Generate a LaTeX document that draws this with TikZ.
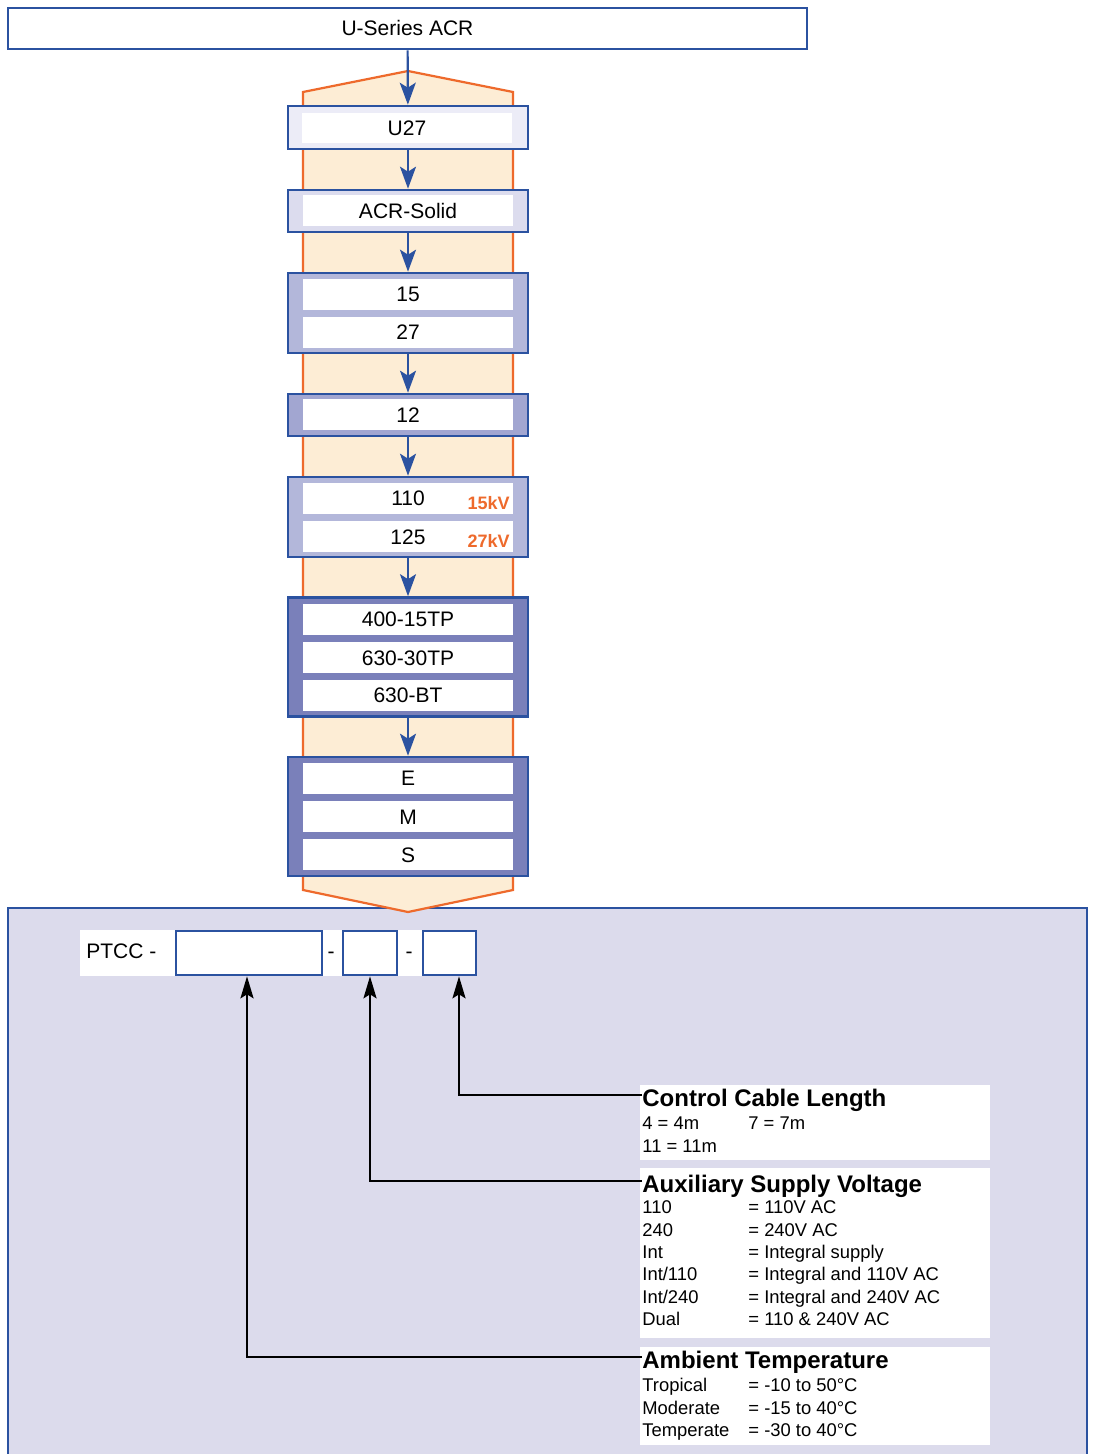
\documentclass[tikz,border=0pt]{standalone}
\usepackage{fontspec}
\setmainfont{Liberation Sans}
\usetikzlibrary{arrows.meta,positioning}
\definecolor{cBlue}{HTML}{2B52A0}
\definecolor{cOrange}{HTML}{EE6A2C}
\definecolor{cOrangeBg}{HTML}{FDEDD5}
\definecolor{cPanel}{HTML}{DCDBEC}
\definecolor{cShadeA}{HTML}{ECECF7}
\definecolor{cShadeB}{HTML}{DCDCEE}
\definecolor{cShadeC}{HTML}{B3B7DA}
\definecolor{cShadeD}{HTML}{A2A6D1}
\definecolor{cShadeE}{HTML}{7A80BA}

\begin{document}
\begin{tikzpicture}[
  x=0.5pt, y=-0.5pt,
  font=\fontsize{10.5}{12}\selectfont,
  label text/.style={text height=8pt, text depth=0.5pt},
  group/.style={draw=cBlue, line width=1.3pt, minimum width=120pt, inner sep=0pt},
  row/.style={fill=white, minimum width=105pt, minimum height=15.5pt, inner sep=0pt, label text},
  flow/.style={-{Stealth[length=11pt,width=8pt,inset=2.5pt]}, cBlue, line width=1.1pt},
  pointer/.style={-{Stealth[length=11pt,width=6.5pt,inset=2pt]}, black, line width=1.2pt},
  slot/.style={draw=cBlue, fill=white, line width=1.3pt, minimum height=22pt, inner sep=0pt},
  infobox/.style={fill=white, minimum width=175pt, inner sep=0pt, anchor=north west},
  head/.style={font=\fontsize{12}{14}\selectfont\bfseries, anchor=west, inner sep=0pt,
               text height=11pt, text depth=0pt},
  entry/.style={font=\fontsize{9.2}{11}\selectfont, anchor=west, inner sep=0pt,
                text height=6.7pt, text depth=0.1pt},
  kv/.style={font=\fontsize{9}{10}\selectfont\bfseries, text=cOrange, anchor=east, inner sep=0pt,
             text height=6.5pt, text depth=0pt},
]
\fill[white] (0,0) rectangle (1092,1454);
\useasboundingbox (0,0) rectangle (1092,1454);

% ---------- order panel ----------
\fill[cPanel] (8,908) rectangle (1087,1454);
\draw[cBlue, line width=1pt] (8,1454) |- (1087,908) -- (1087,1454);

% ---------- option column ----------
\draw[cOrange, fill=cOrangeBg, line width=1.1pt]
  (408,71) -- (513,92) -- (513,890) -- (408,912) -- (303,890) -- (303,92) -- cycle;

\node[draw=cBlue, fill=white, line width=1.3pt, minimum width=399.5pt,
      minimum height=20.5pt, inner sep=0pt, label text] (series) at (407.5,28.5) {U-Series ACR};

\node[group, fill=cShadeA, minimum height=21.5pt] (gModel) at (408,127.5) {};
\node[row, minimum height=15pt] (rU27) at (407,128) {U27};

\node[group, fill=cShadeB, minimum height=21pt] (gType) at (408,211) {};
\node[row] (rSolid) at (408,211) {ACR-Solid};

\node[group, fill=cShadeC, minimum height=40pt] (gVolt) at (408,313) {};
\node[row] (r15) at (408,294.5) {15};
\node[row] (r27) at (408,332.5) {27};

\node[group, fill=cShadeD, minimum height=21pt] (gBreak) at (408,415) {};
\node[row] (r12) at (408,415) {12};

\node[group, fill=cShadeC, minimum height=40pt] (gBil) at (408,517) {};
\node[row] (r110) at (408,498) {110};
\node[row] (r125) at (408,536.5) {125};
\node[kv] (kv15) at (510,503) {15kV};
\node[kv] (kv27) at (510,541) {27kV};

\node[group, fill=cShadeE, minimum height=59.5pt] (gCurr) at (408,657) {};
\node[row] (r400) at (408,619) {400-15TP};
\node[row] (r630t) at (408,657.5) {630-30TP};
\node[row] (r630b) at (408,695) {630-BT};

\node[group, fill=cShadeE, minimum height=59.5pt] (gCtrl) at (408,816.5) {};
\node[row] (rE) at (408,778) {E};
\node[row] (rM) at (408,816.5) {M};
\node[row] (rS) at (408,854.5) {S};

\draw[flow] (series) -- (gModel);
\draw[flow] (gModel) -- (gType);
\draw[flow] (gType) -- (gVolt);
\draw[flow] (gVolt) -- (gBreak);
\draw[flow] (gBreak) -- (gBil);
\draw[flow] (gBil) -- (gCurr);
\draw[flow] (gCurr) -- (gCtrl);

% ---------- part number ----------
\node[fill=white, minimum width=198.5pt, minimum height=23pt, inner sep=0pt,
      anchor=north west] (strip) at (80,930) {};
\node[anchor=west, inner sep=0pt, label text] (ptcc) at (86,951) {PTCC -};
\node[slot, minimum width=73pt] (slotTemp) at (249,953) {};
\node[inner sep=0pt, label text] (dashA) at (331,951) {-};
\node[slot, minimum width=27pt] (slotVolt) at (370,953) {};
\node[inner sep=0pt, label text] (dashB) at (409,951) {-};
\node[slot, minimum width=26.5pt] (slotLen) at (449.5,953) {};

% ---------- control cable length ----------
\node[infobox, minimum height=37.5pt] (cclBox) at (640,1085) {};
\node[head] (cclHead) at (642,1095) {Control Cable Length};
\node[entry] (ccl4) at (642,1123) {4 = 4m};
\node[entry] (ccl7) at (748,1123) {7 = 7m};
\node[entry] (ccl11) at (642,1146) {11 = 11m};

% ---------- auxiliary supply voltage ----------
\node[infobox, minimum height=85pt] (auxBox) at (640,1168) {};
\node[head] (auxHead) at (642,1181) {Auxiliary Supply Voltage};
\foreach \k/\v [count=\i] in {110/{= 110V AC}, 240/{= 240V AC}, Int/{= Integral supply},
    {Int/110}/{= Integral and 110V AC}, {Int/240}/{= Integral and 240V AC}, Dual/{= 110 \& 240V AC}}{
  \node[entry] (auxKey\i) at (642,{1184.6+22.4*\i}) {\k};
  \node[entry] (auxVal\i) at (748,{1184.6+22.4*\i}) {\v};
}

% ---------- ambient temperature ----------
\node[infobox, minimum height=49pt] (ambBox) at (640,1347) {};
\node[head] (ambHead) at (642,1357) {Ambient Temperature};
\foreach \k/\v [count=\i] in {Tropical/{= -10 to 50°C}, Moderate/{= -15 to 40°C}, Temperate/{= -30 to 40°C}}{
  \node[entry] (ambKey\i) at (642,{1362.5+22.5*\i}) {\k};
  \node[entry] (ambVal\i) at (748,{1362.5+22.5*\i}) {\v};
}

% ---------- pointers ----------
\draw[pointer] (cclHead.west) -| ([xshift=4.75pt]slotLen.south);
\draw[pointer] (auxHead.west) -| (slotVolt.south);
\draw[pointer] (ambHead.west) -| ([xshift=-1pt]slotTemp.south);

\end{tikzpicture}
\end{document}
